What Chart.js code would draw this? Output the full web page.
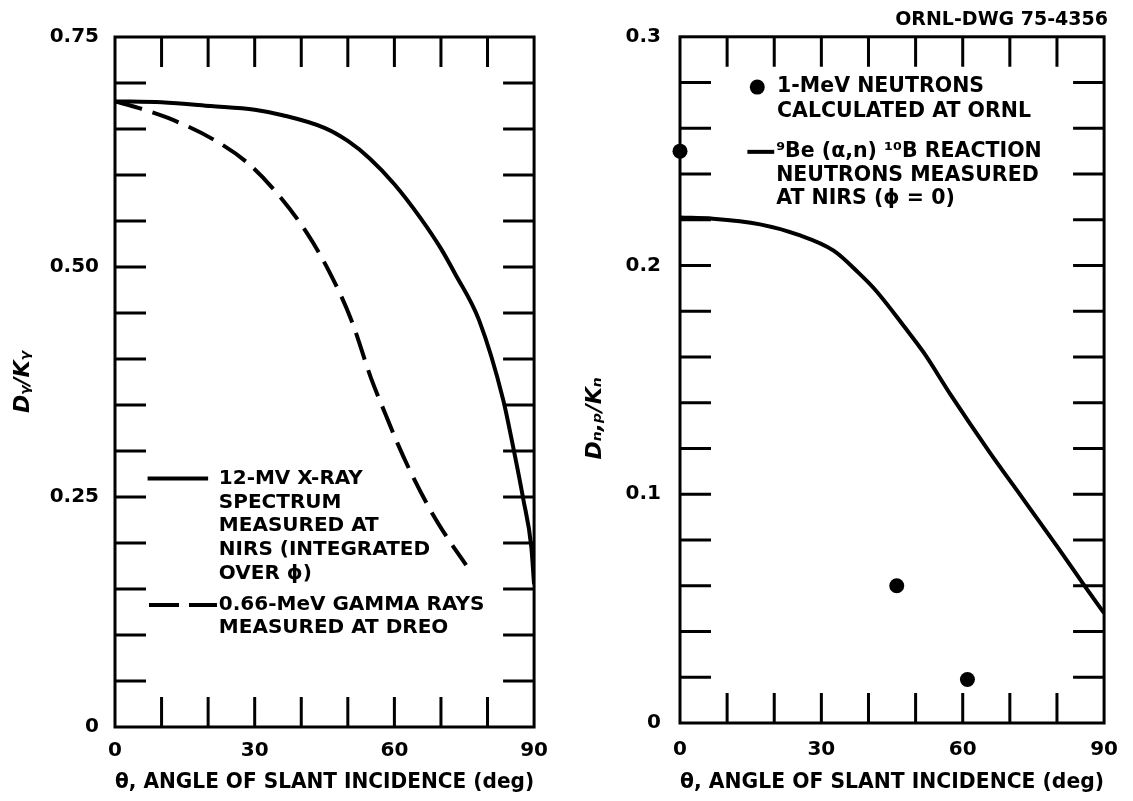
<!DOCTYPE html>
<html>
<head>
<meta charset="utf-8">
<script src="https://cdn.jsdelivr.net/npm/chart.js@4.4.0/dist/chart.umd.min.js"></script>
<style>
  body { margin: 0; background: #fff; }
  #wrap { position: relative; width: 1133px; height: 801px; }
  .box { position: absolute; top: 0; height: 801px; }
  #boxL { left: 0; width: 560px; }
  #boxR { left: 560px; width: 573px; }
</style>
</head>
<body>
<div id="wrap">
  <div class="box" id="boxL"><canvas id="dashL"></canvas></div>
  <div class="box" id="boxR"><canvas id="dashR"></canvas></div>
</div>
<script>
// painel esquerdo: fotons
const xrayTheta = [0, 10, 20.6, 30, 36, 45.1, 50, 54.7, 60, 65.5, 70, 73, 78.2, 83.4, 85.2, 87.7, 89.4, 90];
const xrayDose  = [0.680, 0.679, 0.675, 0.671, 0.665, 0.651, 0.637, 0.618, 0.590, 0.554, 0.520, 0.493, 0.442, 0.355, 0.312, 0.247, 0.196, 0.155];

const gammaTheta = [0, 5, 11.4, 21, 28.5, 35, 41.2, 46, 50.7, 55, 58, 60.7, 63.5, 67.6, 71.2, 75.4];
const gammaDose  = [0.680, 0.673, 0.662, 0.639, 0.613, 0.579, 0.537, 0.495, 0.443, 0.379, 0.341, 0.308, 0.277, 0.237, 0.207, 0.176];

// painel direito: neutrons
const beTheta = [0, 7, 17, 25, 32.6, 37.8, 41.6, 47.7, 51.7, 57.6, 65.5, 72.8, 80.1, 86.2, 90];
const beDose  = [0.221, 0.2205, 0.218, 0.2135, 0.2065, 0.197, 0.189, 0.173, 0.162, 0.143, 0.119, 0.098, 0.077, 0.059, 0.048];

const ornlTheta = [0, 46, 61];
const ornlDose  = [0.250, 0.060, 0.019];

const xTicks = [0, 30, 60, 90];
const yTicksL = [0, 0.25, 0.5, 0.75];
const yTicksR = [0, 0.1, 0.2, 0.3];

const legendaL1 = ["12-MV X-RAY", "SPECTRUM", "MEASURED AT", "NIRS (INTEGRATED", "OVER \u03D5)"];
const legendaL2 = ["0.66-MeV GAMMA RAYS", "MEASURED AT DREO"];
const legendaR1 = ["1-MeV NEUTRONS", "CALCULATED AT ORNL"];
const legendaR2 = ["\u2079Be (\u03B1,n) \u00B9\u2070B REACTION", "NEUTRONS MEASURED", "AT NIRS (\u03D5 = 0)"];

Chart.defaults.font.family = "'DejaVu Sans', sans-serif";
Chart.defaults.font.weight = "bold";
Chart.defaults.color = "#000";

const pontos = (xs, ys) => xs.map((t, i) => ({ x: t, y: ys[i] }));

// moldura com ticks para dentro nos quatro lados
function moldura(yStep) {
  return {
    id: "moldura",
    beforeDatasetsDraw(chart) {
      const { ctx, chartArea: a, scales: { x, y } } = chart;
      ctx.save();
      ctx.strokeStyle = "#000";
      ctx.lineWidth = 3;
      ctx.strokeRect(a.left, a.top, a.right - a.left, a.bottom - a.top);
      ctx.beginPath();
      for (let t = 10; t < 90; t += 10) {
        const px = x.getPixelForValue(t);
        ctx.moveTo(px, a.top); ctx.lineTo(px, a.top + 30);
        ctx.moveTo(px, a.bottom); ctx.lineTo(px, a.bottom - 30);
      }
      for (let i = 1; i < 15; i++) {
        const py = y.getPixelForValue(i * yStep);
        ctx.moveTo(a.left, py); ctx.lineTo(a.left + 31, py);
        ctx.moveTo(a.right, py); ctx.lineTo(a.right - 31, py);
      }
      ctx.stroke();
      ctx.restore();
    }
  };
}

const legendaEsq = {
  id: "legendaEsq",
  afterDraw(chart) {
    const { ctx, scales: { x, y } } = chart;
    ctx.save();
    ctx.font = "bold 20px 'DejaVu Sans'";
    ctx.fillStyle = "#000";
    ctx.strokeStyle = "#000";
    ctx.lineWidth = 4;
    ctx.textBaseline = "middle";
    const tx = x.getPixelForValue(22.3);

    let y0 = y.getPixelForValue(0.27);
    ctx.beginPath();
    ctx.moveTo(x.getPixelForValue(7), y0);
    ctx.lineTo(x.getPixelForValue(20), y0);
    ctx.stroke();
    legendaL1.forEach((s, i) => ctx.fillText(s, tx, y0 + i * 23.7));

    y0 = y.getPixelForValue(0.1326);
    ctx.setLineDash([30, 10]);
    ctx.beginPath();
    ctx.moveTo(x.getPixelForValue(7.3), y0);
    ctx.lineTo(x.getPixelForValue(21.9), y0);
    ctx.stroke();
    legendaL2.forEach((s, i) => ctx.fillText(s, tx, y0 + i * 22.5));
    ctx.restore();
  }
};

const legendaDir = {
  id: "legendaDir",
  afterDraw(chart) {
    const { ctx, scales: { x, y } } = chart;
    ctx.save();
    ctx.font = "bold 20.5px 'DejaVu Sans'";
    ctx.fillStyle = "#000";
    ctx.strokeStyle = "#000";
    ctx.lineWidth = 4;
    ctx.textBaseline = "middle";

    let y0 = y.getPixelForValue(0.278);
    ctx.beginPath();
    ctx.arc(x.getPixelForValue(16.4), y0, 7.5, 0, Math.PI * 2);
    ctx.fill();
    legendaR1.forEach((s, i) => ctx.fillText(s, x.getPixelForValue(20.6), y0 + i * 25));

    y0 = y.getPixelForValue(0.2497);
    ctx.beginPath();
    ctx.moveTo(x.getPixelForValue(14.3), y0);
    ctx.lineTo(x.getPixelForValue(20), y0);
    ctx.stroke();
    legendaR2.forEach((s, i) => ctx.fillText(s, x.getPixelForValue(20.4), y0 + i * 23.5));
    ctx.restore();
  }
};

function escalaX(pad, titlePad) {
  return {
    type: "linear",
    min: 0,
    max: 90,
    afterBuildTicks: (s) => { s.ticks = xTicks.map(v => ({ value: v })); },
    afterFit: (s) => { s.height = 74; },
    grid: { display: false, drawTicks: false },
    border: { display: false },
    ticks: { font: { size: 20, weight: "bold" }, padding: pad, maxRotation: 0 },
    title: {
      display: true,
      text: "\u03B8, ANGLE OF SLANT INCIDENCE (deg)",
      font: { size: 20.5, weight: "bold" },
      padding: { top: 0, bottom: titlePad }
    }
  };
}

new Chart(document.getElementById("dashL"), {
  type: "scatter",
  data: {
    datasets: [
      {
        label: "12-MV X-RAY SPECTRUM MEASURED AT NIRS",
        data: pontos(xrayTheta, xrayDose),
        showLine: true,
        borderColor: "#000",
        borderWidth: 4,
        pointRadius: 0,
        cubicInterpolationMode: "monotone"
      },
      {
        label: "0.66-MeV GAMMA RAYS MEASURED AT DREO",
        data: pontos(gammaTheta, gammaDose),
        showLine: true,
        borderColor: "#000",
        borderWidth: 4,
        borderDash: [28, 11],
        pointRadius: 0,
        cubicInterpolationMode: "monotone"
      }
    ]
  },
  options: {
    responsive: true,
    maintainAspectRatio: false,
    animation: false,
    layout: { padding: { top: 37, right: 14, left: 0, bottom: 0 } },
    scales: {
      x: escalaX(12, 5.7),
      y: {
        type: "linear",
        min: 0,
        max: 0.75,
        afterBuildTicks: (s) => { s.ticks = yTicksL.map(v => ({ value: v })); },
        afterFit: (s) => { s.width = 115; },
        grid: { display: false, drawTicks: false },
        border: { display: false },
        ticks: {
          font: { size: 20, weight: "bold" },
          padding: 16,
          callback: (v) => v === 0 ? "0" : v.toFixed(2)
        },
        title: {
          display: true,
          text: "D\u1D67/K\u1D67",
          font: { size: 22, weight: "bold", style: "italic" },
          padding: { top: 10, bottom: 0 }
        }
      }
    },
    plugins: { legend: { display: false }, tooltip: { enabled: false } }
  },
  plugins: [moldura(0.05), legendaEsq]
});

new Chart(document.getElementById("dashR"), {
  type: "scatter",
  data: {
    datasets: [
      {
        label: "1-MeV NEUTRONS CALCULATED AT ORNL",
        data: pontos(ornlTheta, ornlDose),
        pointRadius: 7.5,
        pointBackgroundColor: "#000",
        pointBorderWidth: 0,
        clip: false
      },
      {
        label: "9Be(a,n)10B REACTION NEUTRONS MEASURED AT NIRS",
        data: pontos(beTheta, beDose),
        showLine: true,
        borderColor: "#000",
        borderWidth: 4,
        pointRadius: 0,
        cubicInterpolationMode: "monotone"
      }
    ]
  },
  options: {
    responsive: true,
    maintainAspectRatio: false,
    animation: false,
    layout: { padding: { top: 9, right: 25, left: 0, bottom: 4 } },
    scales: {
      x: escalaX(15, 1.7),
      y: {
        type: "linear",
        min: 0,
        max: 0.3,
        afterBuildTicks: (s) => { s.ticks = yTicksR.map(v => ({ value: v })); },
        afterFit: (s) => { s.width = 120; },
        grid: { display: false, drawTicks: false },
        border: { display: false },
        ticks: {
          font: { size: 20, weight: "bold" },
          padding: 19,
          callback: (v) => v === 0 ? "0" : v.toFixed(1)
        },
        title: {
          display: true,
          text: "D\u2099,\u209A/K\u2099" + "\u2002".repeat(7),
          font: { size: 22, weight: "bold", style: "italic" },
          padding: { top: 22, bottom: 0 }
        }
      }
    },
    plugins: {
      legend: { display: false },
      tooltip: { enabled: false },
      title: {
        display: true,
        text: "ORNL-DWG 75-4356",
        align: "end",
        font: { size: 19, weight: "bold" },
        padding: { top: 0, bottom: 5 }
      }
    }
  },
  plugins: [moldura(0.02), legendaDir]
});
</script>
</body>
</html>
